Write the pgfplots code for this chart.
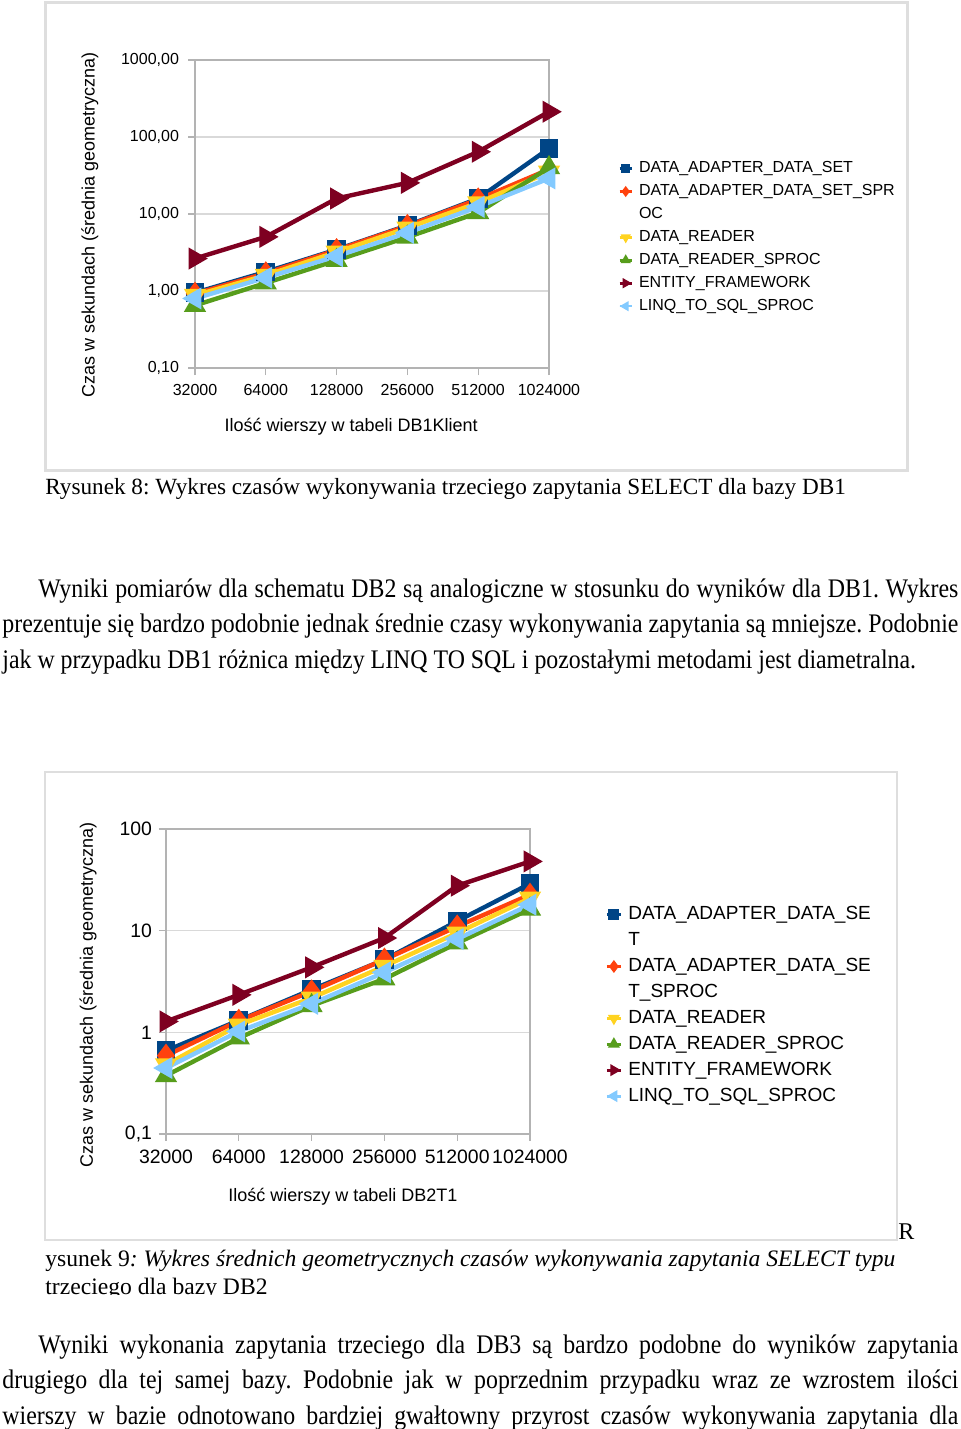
\documentclass[border=0pt]{standalone}
\usepackage{pgfplots}
\usepackage{pgfplotstable}
\pgfplotsset{compat=1.18}
\usepackage{fontspec}
\setmainfont{Liberation Serif}
\newfontfamily\arial{Liberation Sans}
\newfontfamily\bodyf{Liberation Serif}[FakeStretch=0.89]
\definecolor{cA}{HTML}{004586}
\definecolor{cB}{HTML}{FF420E}
\definecolor{cC}{HTML}{FFD320}
\definecolor{cD}{HTML}{579D1C}
\definecolor{cE}{HTML}{7E0021}
\definecolor{cF}{HTML}{83CAFF}
\definecolor{gridc}{HTML}{D9D9D9}
\definecolor{axc}{HTML}{B3B3B3}

\pgfplotstableread{
x dads dadss dr drs ef linq
0 0.95 0.92 0.88 0.65 2.64 0.80
1 1.77 1.70 1.60 1.27 5.05 1.49
2 3.45 3.40 3.20 2.50 15.9 2.83
3 7.10 7.00 6.60 5.00 25.4 5.70
4 15.9 15.5 14.0 10.4 64.3 12.4
5 71.0 38.0 35.0 40.0 213 29.0
}\dbone

\pgfplotstableread{
x dads dadss dr drs ef linq
0 0.66 0.59 0.48 0.375 1.28 0.446
1 1.31 1.30 1.18 0.88 2.34 1.02
2 2.63 2.53 2.18 1.83 4.36 1.91
3 5.18 5.20 4.47 3.35 8.47 3.89
4 12.4 11.0 9.50 7.56 27.7 8.28
5 29.0 22.6 20.9 16.3 48.0 18.0
}\dbtwo

\tikzset{
  sA/.style={cA, line width=2.2pt, mark=square*, mark size=3.6pt},
  sB/.style={cB, line width=2.2pt, mark=diamond*, mark size=4.2pt},
  sC/.style={cC, line width=2.2pt, mark=triangle*, mark size=4.2pt, mark options={rotate=180}},
  sD/.style={cD, line width=2.2pt, mark=triangle*, mark size=4.2pt},
  sE/.style={cE, line width=2.2pt, mark=triangle*, mark size=4.2pt, mark options={rotate=-90}},
  sF/.style={cF, line width=2.2pt, mark=triangle*, mark size=4.2pt, mark options={rotate=90}},
}

\begin{document}
\frenchspacing
\begin{tikzpicture}[x=0.5pt,y=0.5pt]
\path[use as bounding box] (0,0) rectangle (960,-1429);
\fill[white] (0,0) rectangle (960,-1429);
% chart frames
\draw[black!13, line width=1.5pt] (45,-3) rectangle (907,-470);
\draw[black!13, line width=1pt] (45,-772) rectangle (897,-1240);

% ---------------- chart 1 ----------------
\begin{axis}[
  scale only axis,
  at={(97.5pt,-184pt)}, anchor=south west,
  width=177pt, height=154pt,
  ymode=log,
  xmin=0, xmax=5, ymin=0.1, ymax=1000,
  enlargelimits=false,
  xtick={0,1,2,3,4,5},
  xticklabels={32000,64000,128000,256000,512000,1024000},
  ytick={0.1,1,10,100,1000},
  yticklabels={{0,10},{1,00},{10,00},{100,00},{1000,00}},
  yminorticks=false,
  tick align=outside,
  xtick pos=bottom, ytick pos=left,
  major tick length=3.5pt,
  ymajorgrids,
  grid style={gridc, line width=0.6pt},
  axis line style={axc, line width=0.6pt},
  tick style={axc, line width=0.6pt},
  clip=false,
  tick label style={font=\arial\fontsize{8}{9}\selectfont},
  xticklabel style={yshift=-1pt},
  yticklabel style={xshift=-1pt},
  ylabel={Czas w sekundach (średnia geometryczna)},
  ylabel style={font=\arial\fontsize{9}{10}\selectfont, at={(axis description cs:-0.297,0.464)}, anchor=center},
  xlabel={Ilość wierszy w tabeli DB1Klient},
  xlabel style={font=\arial\fontsize{9}{10}\selectfont, at={(axis description cs:0.441,-0.192)}, anchor=center},
  legend cell align=left,
  legend style={at={(axis description cs:1.195,0.685)}, anchor=north west, draw=none, fill=none,
    font=\arial\fontsize{8}{11.5}\selectfont, row sep=0.4pt, inner sep=0pt, column sep=1pt},
  legend image code/.code={\draw[mark repeat=2,mark phase=2,#1,line width=1.3pt,mark size=1.7pt] plot coordinates {(0pt,0pt)(3pt,0pt)(6pt,0pt)};},
]
\addplot[sA] table[x=x,y=dads]{\dbone};
\addlegendentry{DATA\_ADAPTER\_DATA\_SET}
\addplot[sB] table[x=x,y=dadss]{\dbone};
\addlegendentry{DATA\_ADAPTER\_DATA\_SET\_SPR}
\addlegendimage{empty legend}
\addlegendentry{OC}
\addplot[sC] table[x=x,y=dr]{\dbone};
\addlegendentry{DATA\_READER}
\addplot[sD] table[x=x,y=drs]{\dbone};
\addlegendentry{DATA\_READER\_SPROC}
\addplot[sE] table[x=x,y=ef]{\dbone};
\addlegendentry{ENTITY\_FRAMEWORK}
\addplot[sF] table[x=x,y=linq]{\dbone};
\addlegendentry{LINQ\_TO\_SQL\_SPROC}
\end{axis}

% ---------------- chart 2 ----------------
\begin{axis}[
  scale only axis,
  at={(83pt,-567pt)}, anchor=south west,
  width=182pt, height=152.5pt,
  ymode=log,
  xmin=0, xmax=5, ymin=0.1, ymax=100,
  enlargelimits=false,
  xtick={0,1,2,3,4,5},
  xticklabels={32000,64000,128000,256000,512000,1024000},
  ytick={0.1,1,10,100},
  yticklabels={{0,1},1,10,100},
  yminorticks=false,
  tick align=outside,
  xtick pos=bottom, ytick pos=left,
  major tick length=3.5pt,
  ymajorgrids,
  grid style={gridc, line width=0.6pt},
  axis line style={axc, line width=0.6pt},
  tick style={axc, line width=0.6pt},
  clip=false,
  tick label style={font=\arial\fontsize{9.7}{11}\selectfont},
  xticklabel style={yshift=-1pt},
  yticklabel style={xshift=0pt},
  ylabel={Czas w sekundach (średnia geometryczna)},
  ylabel style={font=\arial\fontsize{9}{10}\selectfont, at={(axis description cs:-0.214,0.456)}, anchor=center},
  xlabel={Ilość wierszy w tabeli DB2T1},
  xlabel style={font=\arial\fontsize{9}{10}\selectfont, at={(axis description cs:0.486,-0.207)}, anchor=center},
  legend cell align=left,
  legend style={at={(axis description cs:1.206,0.76)}, anchor=north west, draw=none, fill=none,
    font=\arial\fontsize{9.5}{13}\selectfont, row sep=0.85pt, inner sep=0pt, column sep=1pt},
  legend image code/.code={\draw[mark repeat=2,mark phase=2,#1,line width=1.5pt,mark size=2pt] plot coordinates {(0pt,0pt)(3.5pt,0pt)(7pt,0pt)};},
]
\addplot[sA] table[x=x,y=dads]{\dbtwo};
\addlegendentry{DATA\_ADAPTER\_DATA\_SE}
\addlegendimage{empty legend}
\addlegendentry{T}
\addplot[sB] table[x=x,y=dadss]{\dbtwo};
\addlegendentry{DATA\_ADAPTER\_DATA\_SE}
\addlegendimage{empty legend}
\addlegendentry{T\_SPROC}
\addplot[sC] table[x=x,y=dr]{\dbtwo};
\addlegendentry{DATA\_READER}
\addplot[sD] table[x=x,y=drs]{\dbtwo};
\addlegendentry{DATA\_READER\_SPROC}
\addplot[sE] table[x=x,y=ef]{\dbtwo};
\addlegendentry{ENTITY\_FRAMEWORK}
\addplot[sF] table[x=x,y=linq]{\dbtwo};
\addlegendentry{LINQ\_TO\_SQL\_SPROC}
\end{axis}

% ---------------- text ----------------
\begin{scope}[every node/.style={inner sep=0pt, anchor=base west, font=\bodyf\fontsize{13.4}{15}\selectfont}]
\node[font=\fontsize{11.6}{14}\selectfont] at (45,-494) {Rysunek 8: Wykres czasów wykonywania trzeciego zapytania SELECT dla bazy DB1};

\node at (38,-597) {\makebox[460pt][s]{Wyniki pomiarów dla schematu DB2 są analogiczne w stosunku do wyników dla DB1. Wykres}};
\node at (2,-632) {\makebox[478pt][s]{prezentuje się bardzo podobnie jednak średnie czasy wykonywania zapytania są mniejsze. Podobnie}};
\node at (2,-668) {jak w przypadku DB1 różnica między LINQ TO SQL i pozostałymi metodami jest diametralna.};

\node[font=\fontsize{12}{14}\selectfont] at (898,-1239) {R};
\node[font=\fontsize{11.8}{14}\selectfont] at (45,-1266) {ysunek 9\textit{: Wykres średnich geometrycznych czasów wykonywania zapytania SELECT typu}};
\begin{scope}
\clip (0,-1270) rectangle (960,-1294);
\node[font=\fontsize{11.8}{14}\selectfont] at (45,-1294) {trzeciego dla bazy DB2};
\end{scope}

\node at (38,-1353) {\makebox[460pt][s]{Wyniki wykonania zapytania trzeciego dla DB3 są bardzo podobne do wyników zapytania}};
\node at (2,-1388) {\makebox[478pt][s]{drugiego dla tej samej bazy. Podobnie jak w poprzednim przypadku wraz ze wzrostem ilości}};
\node at (2,-1424) {\makebox[478pt][s]{wierszy w bazie odnotowano bardziej gwałtowny przyrost czasów wykonywania zapytania dla}};
\end{scope}
\end{tikzpicture}
\end{document}
